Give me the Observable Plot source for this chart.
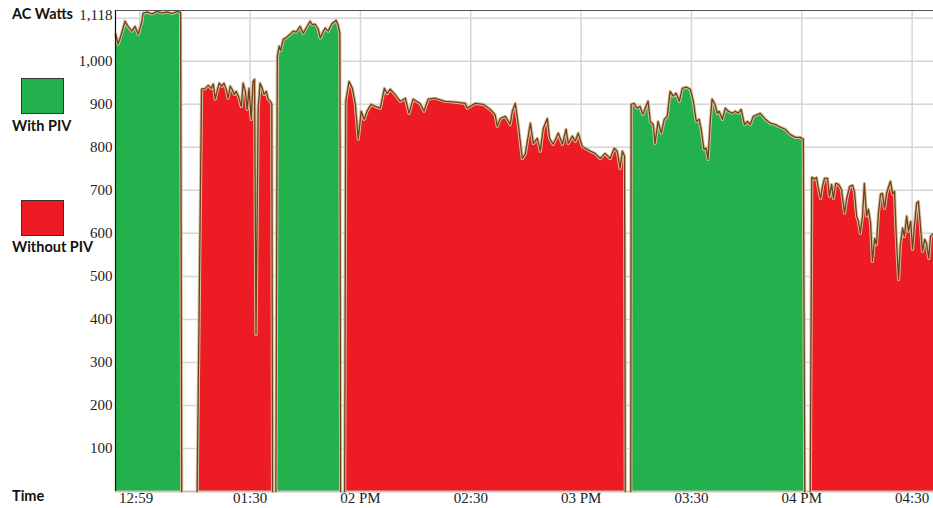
<!DOCTYPE html>
<html>
<head>
<meta charset="utf-8">
<script src="https://cdn.jsdelivr.net/npm/d3@7"></script>
<script src="https://cdn.jsdelivr.net/npm/@observablehq/plot@0.6"></script>
<style>
  html, body { margin: 0; padding: 0; background: #fff; }
  #wrap { position: relative; width: 933px; height: 508px; overflow: hidden; }
  #chart svg text { font-family: "Liberation Serif", "DejaVu Serif", serif !important; font-size: 15px; fill: #222; }
  .lbl { position: absolute; font-family: Lato, "Open Sans", sans-serif; font-weight: 700; font-size: 14.5px; color: #111; white-space: nowrap; line-height: 1; }
  .sw { position: absolute; width: 41px; height: 34px; border: 1px solid #333; }
</style>
</head>
<body>
<div id="wrap">
  <div id="chart"></div>
  <div class="lbl" style="left:12px; top:7px;">AC Watts</div>
  <div class="sw" style="left:21px; top:78px; background:#22b14c;"></div>
  <div class="lbl" style="left:12px; top:119px;">With PIV</div>
  <div class="sw" style="left:21px; top:200px; background:#ed1c24;"></div>
  <div class="lbl" style="left:12px; top:240px;">Without PIV</div>
  <div class="lbl" style="left:12px; top:489px;">Time</div>
</div>
<script>
// Time is in minutes after 12:00 PM; watts are AC output.
const seriesNames = ["With PIV", "Without PIV"];
const seriesColors = ["#22b14c", "#ed1c24"];

const withPIV1 = [[53.45,1063],[54.1,1040],[54.9,1060],[56.0,1093],[56.8,1081],[57.9,1070],[58.7,1081],[59.6,1063],[60.6,1093],[60.9,1112],[62.0,1114],[63.4,1110],[64.7,1116],[66.1,1112],[67.4,1115],[68.8,1111],[70.2,1116],[71.1,1113],[71.4,0]];
const withoutPIV1 = [[75.6,0],[76.8,935],[77.8,937],[78.6,944],[79.4,937],[80.0,947],[80.5,912],[81.0,930],[81.6,949],[82.4,942],[82.9,949],[83.5,935],[84.0,914],[84.6,942],[85.1,935],[85.7,923],[86.2,930],[86.8,919],[87.6,895],[88.1,949],[88.7,930],[89.2,888],[89.7,937],[90.3,865],[90.8,953],[91.2,958],[91.6,365],[92.2,891],[92.7,949],[93.3,937],[93.8,923],[94.4,930],[94.9,912],[95.5,907],[95.9,900],[96.1,0]];
const withPIV2 = [[97.0,0],[97.4,1012],[97.9,1035],[98.3,1025],[99.0,1051],[99.8,1055],[100.9,1063],[101.7,1070],[102.5,1068],[103.6,1081],[104.4,1065],[105.3,1078],[106.3,1093],[106.9,1085],[107.7,1086],[108.5,1075],[109.1,1054],[109.9,1070],[110.4,1077],[111.2,1070],[112.3,1088],[113.4,1095],[113.9,1085],[114.4,1065],[114.6,0]];
const withoutPIV2 = [[115.7,0],[116.0,907],[116.9,953],[117.8,937],[118.6,900],[119.4,819],[120.2,884],[121.0,865],[121.8,884],[122.9,900],[124.0,895],[125.4,891],[126.5,937],[127.3,925],[128.1,935],[129.4,923],[130.8,907],[132.2,914],[133.2,879],[134.3,912],[136.2,902],[137.3,884],[138.4,912],[140.3,914],[143.0,907],[145.8,905],[148.5,902],[149.0,891],[151.2,902],[153.4,900],[155.3,888],[156.6,876],[157.2,849],[158.0,867],[159.4,872],[160.7,853],[161.3,884],[162.1,902],[162.9,853],[164.0,774],[164.8,784],[166.2,856],[167.0,809],[168.1,821],[168.9,791],[169.7,844],[170.8,867],[171.4,821],[172.4,807],[173.8,833],[174.9,807],[175.9,842],[176.5,809],[177.6,826],[178.4,814],[179.2,833],[180.3,802],[182.5,791],[183.8,786],[185.2,774],[186.5,786],[187.9,774],[189.0,798],[189.8,791],[190.6,751],[191.2,791],[191.8,780],[192.0,0]];
const withPIV3 = [[193.5,0],[193.6,900],[194.4,902],[195.2,891],[196.0,895],[196.8,876],[197.4,891],[198.2,907],[198.8,860],[199.6,853],[200.1,809],[200.9,860],[201.8,833],[202.6,865],[203.4,872],[204.2,930],[205.0,919],[205.8,926],[206.7,907],[207.5,937],[208.6,940],[209.7,935],[210.5,907],[211.3,860],[212.1,865],[212.6,844],[213.4,795],[214.0,798],[214.5,772],[215.1,860],[215.6,912],[216.4,900],[217.0,879],[217.5,884],[218.4,865],[219.2,891],[220.0,884],[221.1,879],[221.9,884],[222.7,879],[223.5,888],[224.4,853],[225.2,860],[226.0,853],[226.8,872],[227.9,876],[228.7,879],[230.1,865],[231.4,856],[232.8,853],[234.1,847],[235.5,842],[236.8,830],[238.2,823],[239.6,823],[240.4,819],[240.8,0]];
const withoutPIV3 = [[242.3,0],[242.7,730],[242.9,730],[243.4,726],[244.0,730],[244.5,705],[245.1,681],[245.6,709],[246.2,728],[247.0,728],[247.5,686],[248.1,714],[248.6,681],[249.2,716],[250.0,714],[250.8,702],[251.6,647],[252.2,681],[253.0,709],[253.8,712],[254.3,698],[254.9,640],[255.4,628],[255.9,600],[256.5,640],[257.0,716],[257.6,640],[258.1,656],[258.7,623],[259.2,535],[259.8,588],[260.3,574],[260.8,644],[261.4,691],[261.9,693],[262.5,658],[263.0,691],[263.6,709],[264.1,721],[264.7,691],[265.2,698],[265.7,588],[266.3,493],[266.8,574],[267.4,612],[267.9,593],[268.5,640],[269.0,605],[269.6,628],[270.1,563],[270.6,616],[271.2,670],[271.7,674],[272.3,612],[272.8,558],[273.4,586],[273.9,577],[274.5,542],[275.0,593],[275.8,600]];

const xDomainMin = [53.4, 275.8];
const xTickMin = [59, 90, 120, 150, 180, 210, 240, 270];
const xTickLabels = ["12:59", "01:30", "02 PM", "02:30", "03 PM", "03:30", "04 PM", "04:30"];
const xGridMin = [60, 90, 120, 150, 180, 210, 240, 270];
const yTicks = [100, 200, 300, 400, 500, 600, 700, 800, 900, 1000];
const yGrid = [100, 200, 300, 400, 500, 600, 700, 800, 900, 1000, 1100];
const yMax = 1118;

const T0 = Date.UTC(2013, 5, 1, 12, 0, 0);
const toDate = m => new Date(T0 + m * 60000);

const segments = [
  [withPIV1, 0], [withoutPIV1, 1], [withPIV2, 0],
  [withoutPIV2, 1], [withPIV3, 0], [withoutPIV3, 1]
];
const rows = [];
segments.forEach(([pts, s], i) => {
  pts.forEach(([m, w]) => rows.push({t: toDate(m), w, seg: i, series: seriesNames[s]}));
});

const labelMap = new Map(xTickMin.map((m, i) => [+toDate(m), xTickLabels[i]]));
const domain = xDomainMin.map(toDate);
const serif = "Liberation Serif";

const chart = Plot.plot({
  width: 933,
  height: 508,
  marginLeft: 115,
  marginRight: 0,
  marginTop: 10,
  marginBottom: 17,
  style: {fontFamily: serif, fontSize: "15px", color: "#222", background: "transparent", overflow: "visible"},
  x: {type: "utc", domain},
  y: {domain: [0, yMax]},
  color: {domain: seriesNames, range: seriesColors},
  marks: [
    Plot.ruleY(yGrid, {stroke: "#d6d6d6", strokeWidth: 1.5}),
    Plot.ruleX(xGridMin.map(toDate), {stroke: "#d6d6d6", strokeWidth: 1.5}),
    Plot.areaY(rows, {x: "t", y: "w", z: "seg", fill: "series", fillOpacity: 1}),
    Plot.ruleY([0], {stroke: "#cbc3ba", strokeWidth: 2}),
    Plot.lineY(rows, {x: "t", y: "w", z: "seg", stroke: "#d9c2a2", strokeWidth: 3.2}),
    Plot.lineY(rows, {x: "t", y: "w", z: "seg", stroke: "#6e4118", strokeWidth: 1.3}),
    Plot.ruleY([yMax], {stroke: "#555", strokeWidth: 1.2}),
    Plot.ruleX([domain[0]], {stroke: "#111", strokeWidth: 1.2}),
    Plot.axisY(yTicks, {tickSize: 0, tickPadding: 3, tickFormat: d3.format(","), label: null, fontFamily: serif, fontSize: 15}),
    Plot.axisY([yMax], {tickSize: 0, tickPadding: 3, dy: 5, tickFormat: d3.format(","), label: null, fontFamily: serif, fontSize: 15}),
    Plot.axisX(xTickMin.map(toDate), {tickSize: 0, tickPadding: 1, tickFormat: d => labelMap.get(+d), label: null, fontFamily: serif, fontSize: 15})
  ]
});
document.getElementById("chart").appendChild(chart);
</script>
</body>
</html>
